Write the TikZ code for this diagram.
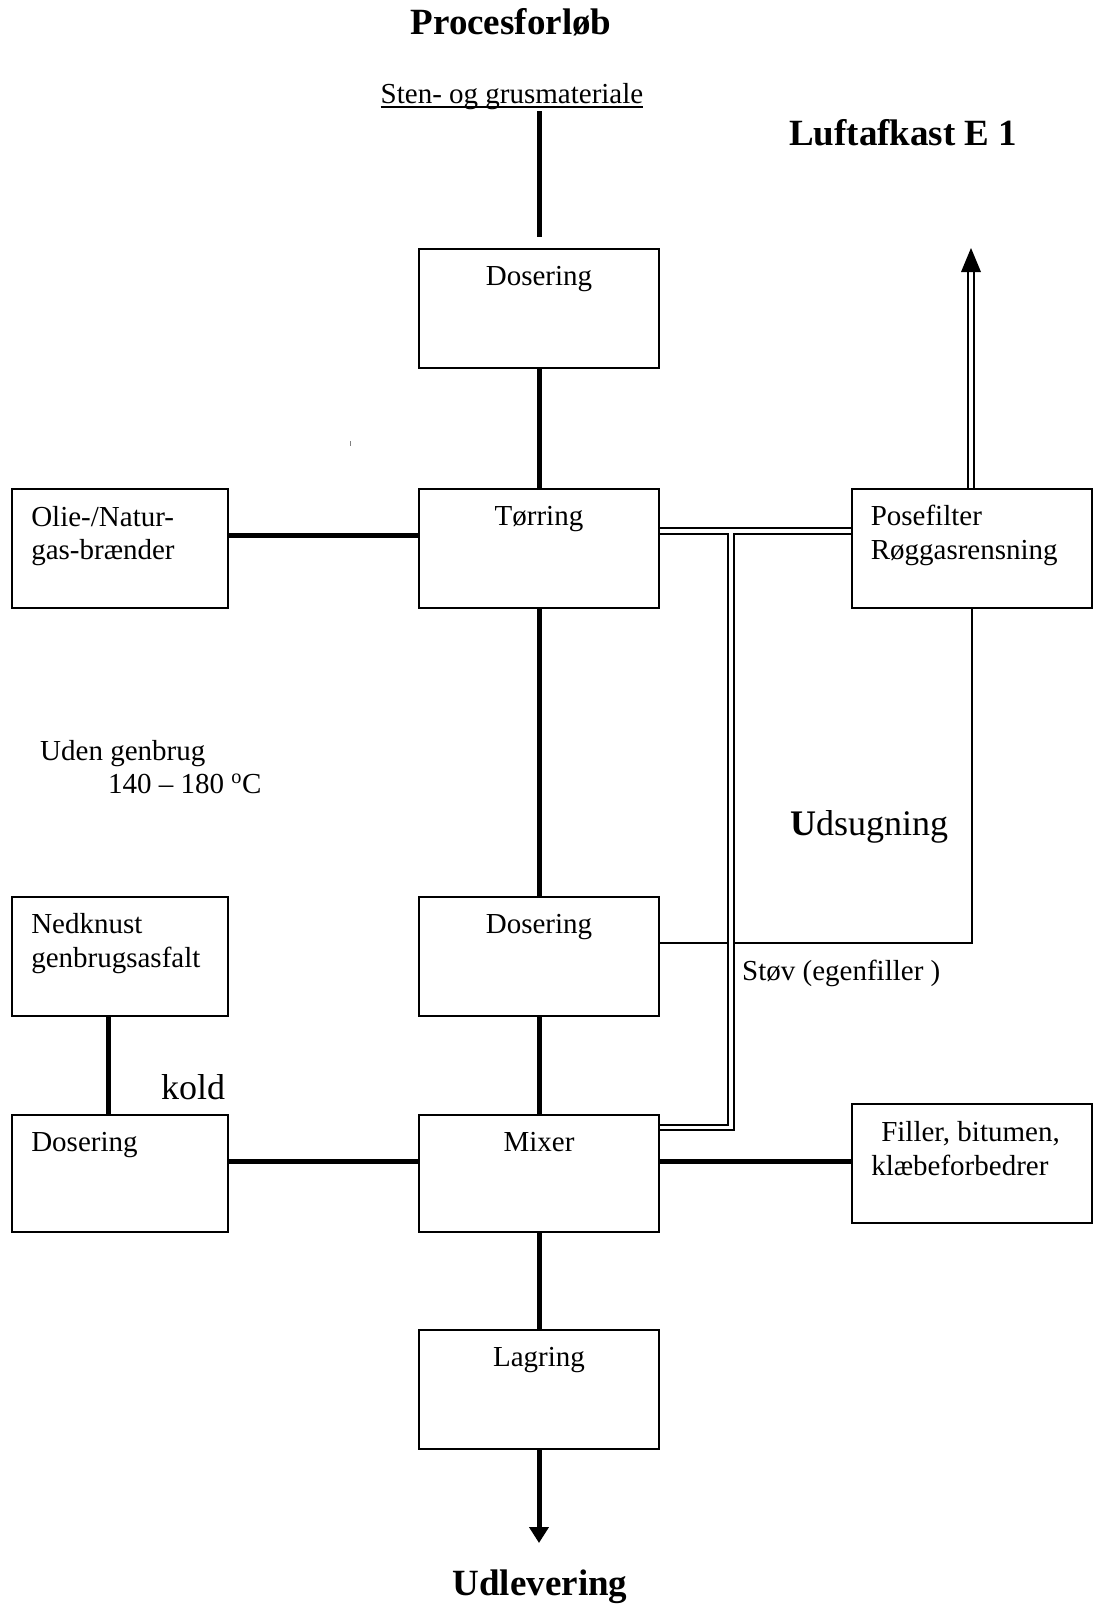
\documentclass[tikz,border=0pt]{standalone}
\usepackage{fontspec}
\setmainfont{Liberation Serif}
\usetikzlibrary{arrows.meta}
\begin{document}
\begin{tikzpicture}[x=1pt,y=-1pt,
  box/.style={draw, line width=1.8pt, minimum width=240pt, minimum height=119pt, inner sep=0pt},
  sbox/.style={box, minimum width=216pt},
  flow/.style={line width=5pt},
  dbl/.style={double, double distance=3.2pt, line width=2pt},
  thinline/.style={line width=1.8pt},
  txt/.style={inner sep=0pt, font=\fontsize{29}{33}\selectfont},
  big/.style={inner sep=0pt, font=\fontsize{37}{40}\selectfont\bfseries},
  mid/.style={inner sep=0pt, font=\fontsize{36}{40}\selectfont}]
\useasboundingbox (0,0) rectangle (1093,1607);

% boxes
\node[box] (dos1) at (539,308.5) {};
\node[box] (tor) at (539,548.5) {};
\node[sbox] (olie) at (120,548.5) {};
\node[box] (pose) at (972,548.5) {};
\node[box] (dos2) at (539,956.5) {};
\node[sbox] (ned) at (120,956.5) {};
\node[sbox, minimum height=117pt] (dos3) at (120,1173.5) {};
\node[box, minimum height=117pt] (mix) at (539,1173.5) {};
\node[box] (fill) at (972,1163.5) {};
\node[box] (lag) at (539,1389.5) {};

% titles and free text
\node[big, anchor=base] (title) at (511,34) {Procesforløb};
\node[txt, anchor=base] (sten) at (512,103) {Sten- og grusmateriale};
\draw[line width=1.3pt] ([yshift=-4pt]sten.base west) -- ([yshift=-4pt]sten.base east);
\node[big, anchor=base west] (luft) at (789,145.5) {Luftafkast E 1};
\node[big, anchor=base] (udl) at (540,1595) {Udlevering};
\node[txt, anchor=base west] (uden) at (40,760) {Uden genbrug};
\node[txt, anchor=base west] (temp) at (108,793) {140 – 180 \textsuperscript{o}C};
\node[mid, anchor=base west] (uds) at (790,835) {\textbf{U}dsugning};
\node[mid, anchor=base west] (kold) at (161,1099) {kold};
\node[txt, anchor=base west] (stov) at (742,980) {Støv (egenfiller )};

% box texts
\node[txt, anchor=base] (t1) at ([yshift=-37pt]dos1.north) {Dosering};
\node[txt, anchor=base] (t2) at ([yshift=-37pt]tor.north) {Tørring};
\node[txt, anchor=base] (t3) at ([yshift=-37pt]dos2.north) {Dosering};
\node[txt, anchor=base] (t4) at ([yshift=-37pt]mix.north) {Mixer};
\node[txt, anchor=base] (t5) at ([yshift=-37pt]lag.north) {Lagring};
\node[txt, anchor=base west] (o1) at ([xshift=20pt,yshift=-38pt]olie.north west) {Olie-/Natur-};
\node[txt, anchor=base west] (o2) at ([xshift=20pt,yshift=-71pt]olie.north west) {gas-brænder};
\node[txt, anchor=base west] (p1) at ([xshift=19.5pt,yshift=-37pt]pose.north west) {Posefilter};
\node[txt, anchor=base west] (p2) at ([xshift=19.5pt,yshift=-71pt]pose.north west) {Røggasrensning};
\node[txt, anchor=base west] (n1) at ([xshift=20pt,yshift=-37pt]ned.north west) {Nedknust};
\node[txt, anchor=base west] (n2) at ([xshift=20pt,yshift=-71pt]ned.north west) {genbrugsasfalt};
\node[txt, anchor=base west] (d3) at ([xshift=20pt,yshift=-37pt]dos3.north west) {Dosering};
\node[txt, anchor=base west] (f1) at ([xshift=30pt,yshift=-38pt]fill.north west) {Filler, bitumen,};
\node[txt, anchor=base west] (f2) at ([xshift=20pt,yshift=-72pt]fill.north west) {klæbeforbedrer};

% main flow
\coordinate (src) at (539,111);
\coordinate (out) at (539,1543);
\draw[flow] (src) -- ([yshift=11pt]dos1.north);
\draw[flow] (dos1) -- (tor);
\draw[flow] (tor) -- (dos2);
\draw[flow] (dos2) -- (mix);
\draw[flow] (mix) -- (lag);
\draw[flow, -{Triangle[width=19pt,length=16pt]}] (lag) -- (out);
\draw[flow] ([yshift=13.5pt]olie.east) -- ([yshift=13.5pt]tor.west);
\draw[flow] ([xshift=-12pt]ned.south) -- ([xshift=-12pt]dos3.north);
\draw[flow] ([yshift=12.5pt]dos3.east) -- ([yshift=12.5pt]mix.west);
\draw[flow] ([yshift=12.5pt]mix.east) -- ([yshift=2.5pt]fill.west);

% dust return (thin)
\draw[thinline] (pose.south) |- ([yshift=13.5pt]dos2.east);

% exhaust (double)
\coordinate (j1) at (731,531);
\draw[dbl] ([yshift=17.5pt]tor.east) -- ([yshift=17.5pt]pose.west);
\draw[dbl] (j1) |- ([yshift=46pt]mix.east);
\draw[white, line width=3.2pt] ([xshift=-7pt]j1) -- ([xshift=7pt]j1);

\coordinate (upb) at (971,272);
\coordinate (upt) at (971,248);
\draw[dbl] ([xshift=-1pt]pose.north) -- (upb);
\fill ([xshift=-10pt]upb) -- (upt) -- ([xshift=10pt]upb) -- cycle;

% small mark
\draw[gray, line width=1pt] (350,441) -- (350,446);
\end{tikzpicture}
\end{document}
